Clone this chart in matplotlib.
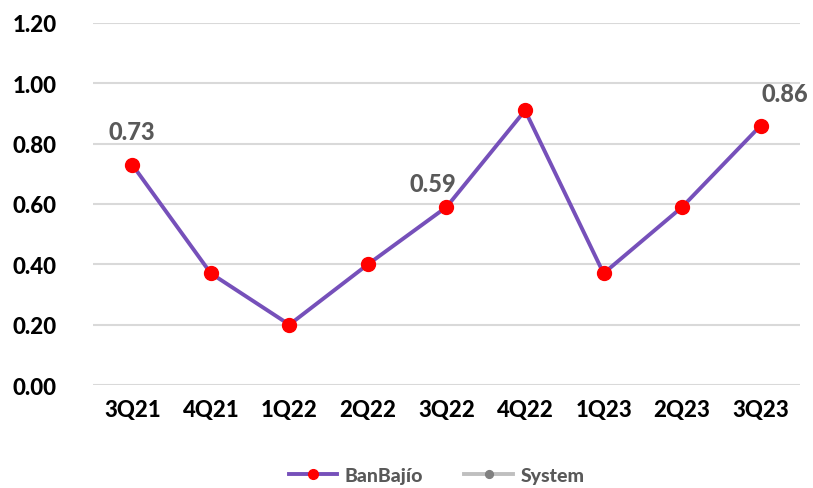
import numpy as np
import matplotlib
matplotlib.use('Agg')
import matplotlib.pyplot as plt

quarters = ['3Q21', '4Q21', '1Q22', '2Q22', '3Q22', '4Q22', '1Q23', '2Q23', '3Q23']
banbajio = [0.73, 0.37, 0.20, 0.40, 0.59, 0.91, 0.37, 0.59, 0.86]
system = [np.nan] * len(quarters)
# label text and offset (points) for the labelled quarters
labeled = {0: ('0.73', 0, 24), 4: ('0.59', -10, 17), 8: ('0.86', 17, 23)}

plt.rcParams['font.family'] = ['Lato', 'DejaVu Sans']
W = 900

fig = plt.figure(figsize=(8.13, 4.89), dpi=100)
ax = fig.add_axes([0.1144, 0.2106, 0.8696, 0.7404])

x = np.arange(len(quarters))
ax.plot(x, banbajio, color='#7650BA', lw=2.8, marker='o', markersize=10,
        markerfacecolor='#FF0000', markeredgecolor='#FF0000', label='BanBajío', zorder=3)
ax.plot(x, system, color='#BFBFBF', lw=2.8, marker='o', markersize=8,
        markerfacecolor='#808080', markeredgecolor='#808080', label='System')

for i, (txt, dx, dy) in labeled.items():
    ax.annotate(txt, (x[i], banbajio[i]), xytext=(dx, dy), textcoords='offset points',
                ha='center', va='center', fontsize=17, fontweight=W, color='#595959')

ax.set_xlim(-0.5, len(quarters) - 0.5)
ax.set_ylim(0, 1.2)
ax.set_yticks(np.arange(0, 1.21, 0.2))
ax.set_yticklabels([f'{v:.2f}' for v in np.arange(0, 1.21, 0.2)])
ax.set_xticks(x)
ax.set_xticklabels(quarters)
ax.tick_params(axis='both', length=0, labelsize=16, labelcolor='black')
ax.tick_params(axis='x', pad=10)
ax.tick_params(axis='y', pad=26)
for lab in ax.get_xticklabels() + ax.get_yticklabels():
    lab.set_fontweight(W)
ax.grid(axis='y', color='#D9D9D9', lw=1.5)
ax.set_axisbelow(True)
for s in ax.spines.values():
    s.set_visible(False)

leg = fig.legend(loc='lower center', bbox_to_anchor=(0.537, -0.027), ncol=2, frameon=False,
                 prop={'weight': W, 'size': 14}, handlelength=2.5, columnspacing=2.1,
                 handletextpad=0.4, markerscale=0.7)
for t in leg.get_texts():
    t.set_color('#595959')

fig.savefig('out.png', dpi=100)
